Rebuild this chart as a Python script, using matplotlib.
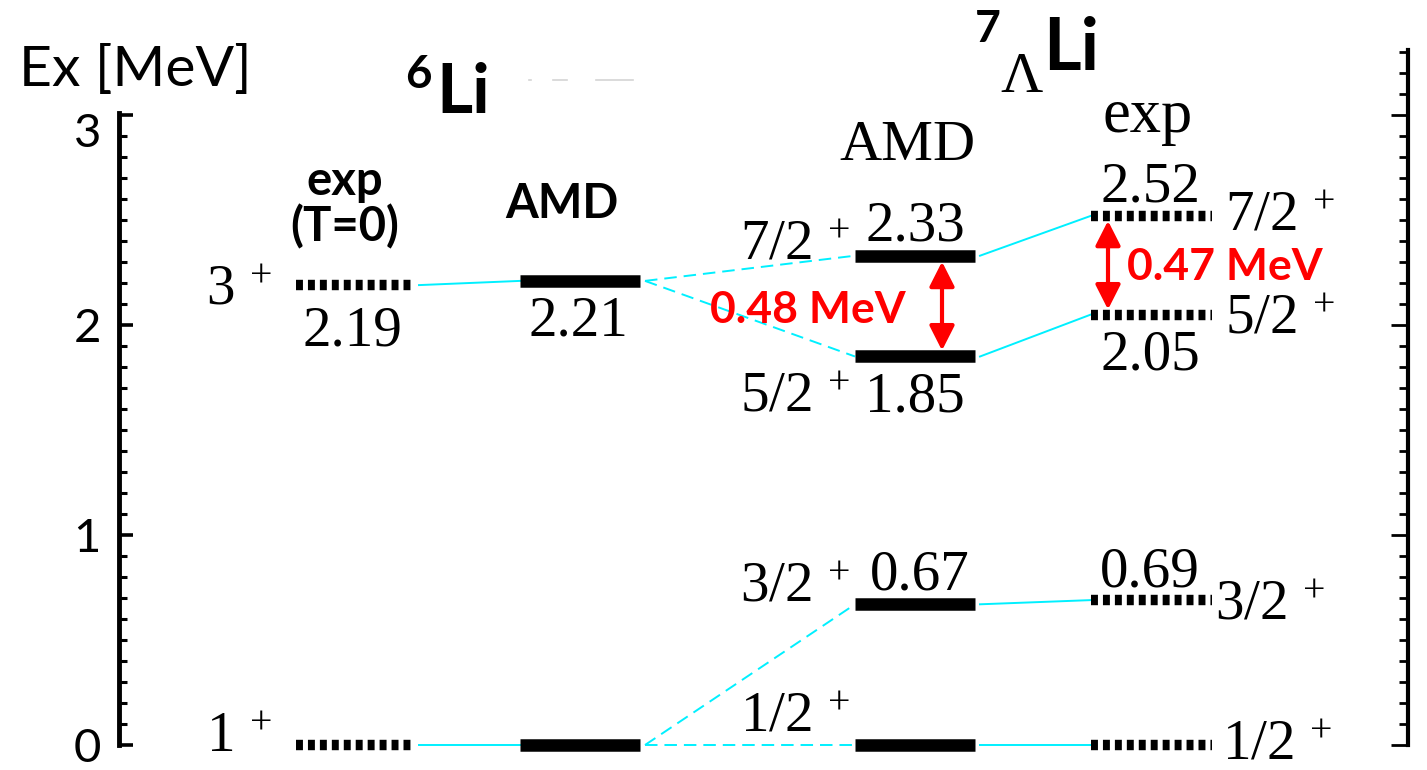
import numpy as np
import matplotlib.pyplot as plt
from matplotlib.patches import FancyArrowPatch
from matplotlib.transforms import ScaledTranslation

plt.rcParams['mathtext.fontset'] = 'custom'
plt.rcParams['mathtext.rm'] = 'Liberation Serif'
plt.rcParams['mathtext.default'] = 'rm'
plt.rcParams['lines.scale_dashes'] = False

SANS = 'Lato'
SERIF = 'Liberation Serif'
CYAN = '#00f0ff'
RED = '#ff0000'

# level energies [MeV]
li6_exp = [0.0, 2.19]
li6_amd = [0.0, 2.21]
li7_amd = [0.0, 0.67, 1.85, 2.33]
li7_exp = [0.0, 0.69, 2.05, 2.52]
li6_spin = ['1', '3']
li7_spin = ['1/2', '3/2', '5/2', '7/2']
major_ticks = [0, 1, 2, 3]
tick_labels = ['0', '1', '2', '3']
gap_amd = 0.48
gap_exp = 0.47

# horizontal extent of each column (figure pixels)
col_x = {'li6_exp': (296, 414), 'li6_amd': (520, 640),
         'li7_amd': (855, 975), 'li7_exp': (1091, 1212)}

W, H = 1427, 770
Y0, PX = 745, 210.0      # pixel row of 0 MeV, pixels per MeV


def ypx(y):
    # pixel row -> MeV, only used to place the texts
    return (Y0 - y) / PX


fig = plt.figure(figsize=(W / 100, H / 100), dpi=100)
ax = fig.add_axes([119 / W, 0, (1408 - 119) / W, 1])
ax.set_xlim(119, 1408)
ax.set_ylim(ypx(H), ypx(0))


def solid(key, energies):
    x0, x1 = col_x[key]
    for e in energies:
        ax.plot([x0, x1], [e, e], color='k', lw=9, solid_capstyle='butt', zorder=3)


def dotted(key, energies):
    x0, x1 = col_x[key]
    for e in energies:
        ax.plot([x0, x1], [e, e], color='k', lw=7.5, dashes=(5, 3.6),
                dash_capstyle='butt', zorder=3)


def link(a, ea, b, eb, dashed=False):
    xa = col_x[a][1] + 5
    xb = col_x[b][0]
    kw = dict(dashes=(9, 5)) if dashed else {}
    ax.plot([xa, xb], [ea, eb], color=CYAN, lw=1.4, zorder=2, **kw)


dotted('li6_exp', li6_exp)
solid('li6_amd', li6_amd)
solid('li7_amd', li7_amd)
dotted('li7_exp', li7_exp)

for i in range(2):
    link('li6_exp', li6_exp[i], 'li6_amd', li6_amd[i])
link('li6_amd', li6_amd[0], 'li7_amd', li7_amd[0], dashed=True)
link('li6_amd', li6_amd[0], 'li7_amd', li7_amd[1], dashed=True)
link('li6_amd', li6_amd[1], 'li7_amd', li7_amd[2], dashed=True)
link('li6_amd', li6_amd[1], 'li7_amd', li7_amd[3], dashed=True)
for i in range(4):
    link('li7_amd', li7_amd[i], 'li7_exp', li7_exp[i])

# energy numbers: x centre, offset of digit centre above the level (px)
HALF = 19  # half digit height, px


def num(x, e, dy):
    ax.text(x, e + (dy - HALF) / PX, f'{e:.2f}', ha='center', va='baseline',
            family=SERIF, fontsize=41)


num(352, li6_exp[1], -41)
num(578, li6_amd[1], -36)
num(915, li7_amd[3], 34)
num(915, li7_amd[2], -36)
num(920, li7_amd[1], 34)
num(1150, li7_exp[3], 33)
num(1150, li7_exp[2], -36)
num(1150, li7_exp[1], 33)


def spin(x, e, dy, j, ha):
    ax.text(x, e + (dy - HALF) / PX, f'${j}^{{\\,+}}$', ha=ha, va='baseline',
            family=SERIF, fontsize=41)


spin(272, li6_exp[0], 12, li6_spin[0], 'right')
spin(272, li6_exp[1], 0, li6_spin[1], 'right')
spin(850, li7_amd[0], 32, li7_spin[0], 'right')
spin(850, li7_amd[1], 22, li7_spin[1], 'right')
spin(850, li7_amd[2], -36, li7_spin[2], 'right')
spin(850, li7_amd[3], 15, li7_spin[3], 'right')
spin(1222, li7_exp[0], 4, li7_spin[0], 'left')
spin(1215, li7_exp[1], 0, li7_spin[1], 'left')
spin(1225, li7_exp[2], 0, li7_spin[2], 'left')
spin(1225, li7_exp[3], 4, li7_spin[3], 'left')


# red arrows for the 5/2+ - 7/2+ splitting
def gap_arrow(x, e_hi, e_lo, half):
    arr = FancyArrowPatch((x, e_hi - half / PX), (x, e_lo + half / PX),
                          arrowstyle='<|-|>,head_length=0.75,head_width=0.38',
                          mutation_scale=20, color=RED, lw=3,
                          shrinkA=0, shrinkB=0, zorder=4)
    ax.add_patch(arr)


gap_arrow(942, li7_amd[3], li7_amd[2], 6)
gap_arrow(1108, li7_exp[3], li7_exp[2], 5)
ax.text(808, ypx(323), f'{gap_amd:.2f} MeV', ha='center', va='baseline',
        family=SANS, weight='bold', fontsize=32, color=RED)
ax.text(1225, ypx(280), f'{gap_exp:.2f} MeV', ha='center', va='baseline',
        family=SANS, weight='bold', fontsize=32, color=RED)

# headings
ax.text(19, ypx(86), 'Ex [MeV]', ha='left', va='baseline', family=SANS, fontsize=41)
ax.text(405, ypx(88), '6', ha='left', va='baseline', family=SANS, weight='bold', fontsize=33)
ax.text(436, ypx(113), 'Li', ha='left', va='baseline', family=SANS, weight='bold', fontsize=50)
ax.text(975, ypx(42), '7', ha='left', va='baseline', family=SANS, weight='bold', fontsize=32)
ax.text(1000, ypx(92), '\u039b', ha='left', va='baseline', family=SERIF, fontsize=42)
ax.text(1043, ypx(70), 'Li', ha='left', va='baseline', family=SANS, weight='bold', fontsize=52)
ax.text(345, ypx(195), 'exp', ha='center', va='baseline', family=SANS, weight='bold', fontsize=34)
ax.text(345, ypx(241), '(T=0)', ha='center', va='baseline', family=SANS, weight='bold', fontsize=34)
ax.text(562, ypx(218), 'AMD', ha='center', va='baseline', family=SANS, weight='bold', fontsize=34)
ax.text(907, ypx(160), 'AMD', ha='center', va='baseline', family=SERIF, fontsize=42)
ax.text(1148, ypx(132), 'exp', ha='center', va='baseline', family=SERIF, fontsize=45)

# faint leftovers next to 6Li
for x0, x1 in [(529, 531), (553, 567), (596, 633)]:
    ax.plot([x0, x1], [ypx(80), ypx(80)], color='#d4d4d4', lw=1.2)

# left axis
ax.spines[['top', 'bottom', 'right']].set_visible(False)
ax.spines['left'].set_bounds(0, 3.01)
ax.spines['left'].set_linewidth(3.5)
ax.set_xticks([])
ax.set_yticks(major_ticks)
ax.set_yticklabels(tick_labels, family=SANS, fontsize=34)
ax.set_yticks(np.round(np.arange(0, 3.01, 0.1), 1), minor=True)
ax.tick_params(axis='y', which='major', direction='in', length=10, width=2.6, pad=13)
ax.tick_params(axis='y', which='minor', direction='in', length=6, width=2.2)

# right axis
ax2 = ax.twinx()
ax2.set_ylim(ax.get_ylim())
ax2.spines[['top', 'bottom', 'left']].set_visible(False)
ax2.spines['right'].set_bounds(0, 3.31)
ax2.spines['right'].set_linewidth(3)
ax2.set_yticks(major_ticks)
ax2.set_yticklabels([])
ax2.set_yticks(np.round(np.arange(0, 3.31, 0.1), 1), minor=True)
ax2.tick_params(axis='y', which='major', direction='in', length=12, width=2)
ax2.tick_params(axis='y', which='minor', direction='in', length=6.5, width=2)

lab3 = ax.yaxis.get_major_ticks()[3].label1
lab3.set_transform(lab3.get_transform() + ScaledTranslation(0, -15 / 100, fig.dpi_scale_trans))

fig.savefig('out.png', dpi=100)
